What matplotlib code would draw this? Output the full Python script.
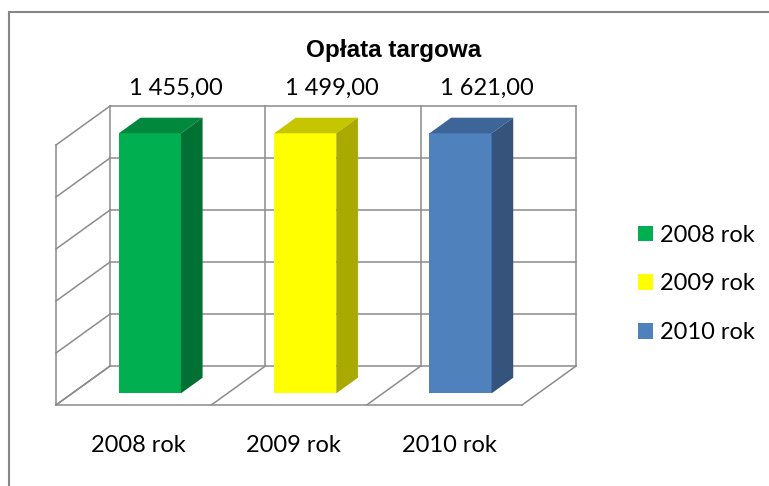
import numpy as np
import matplotlib
matplotlib.use("Agg")
import matplotlib.pyplot as plt
from matplotlib.patches import Polygon, Rectangle

# chart data
categories = ["2008 rok", "2009 rok", "2010 rok"]
values = [1455.00, 1499.00, 1621.00]
value_labels = ["1 455,00", "1 499,00", "1 621,00"]
title = "Opłata targowa"

# axis setup (value axis is capped below the data, so the bars are clipped)
y_max = 1000
y_step = 200

front_colors = ["#00B050", "#FFFF00", "#4F81BD"]
side_colors = ["#007033", "#A9A900", "#34547D"]
top_colors = ["#00893D", "#C6C600", "#3D6598"]
grid_color = "#8C8C8C"

# oblique projection of the depth axis (data units per full depth)
dx = 0.348
dy = 150.0
d0, d1 = 0.3, 0.7      # bar front / back depth
bar_w = 0.4

fig = plt.figure(figsize=(7.69, 4.86), dpi=100)
ax = fig.add_axes([0, 0, 1, 1])
ax.set_xlim(-0.3605, 4.5901)
ax.set_ylim(-311.5, 1557.7)
ax.axis("off")

n = len(categories)
levels = np.arange(0, y_max + 1, y_step)
lw = 1.1

# back wall
for v in levels:
    ax.plot([dx, n + dx], [v + dy, v + dy], color=grid_color, lw=lw, zorder=1)
for k in range(n + 1):
    ax.plot([k + dx, k + dx], [dy, y_max + dy], color=grid_color, lw=lw, zorder=1)
# side wall
ax.plot([0, 0], [0, y_max], color=grid_color, lw=lw, zorder=1)
for v in levels:
    ax.plot([0, dx], [v, v + dy], color=grid_color, lw=lw, zorder=1)
# floor
ax.plot([0, n], [0, 0], color=grid_color, lw=lw, zorder=1)
for k in range(n + 1):
    ax.plot([k, k + dx], [0, dy], color=grid_color, lw=lw, zorder=1)

# bars
heights = np.minimum(values, y_max)
x_front = np.arange(n) + 0.5 + d0 * dx
bottom = d0 * dy
bars = ax.bar(x_front, heights, width=bar_w, bottom=bottom,
              color=front_colors, zorder=3, linewidth=0)
ddx = (d1 - d0) * dx
ddy = (d1 - d0) * dy
for i, h in enumerate(heights):
    xl = x_front[i] - bar_w / 2
    xr = x_front[i] + bar_w / 2
    top = bottom + h
    ax.add_patch(Polygon([(xl, top), (xr, top), (xr + ddx, top + ddy), (xl + ddx, top + ddy)],
                         closed=True, facecolor=top_colors[i], edgecolor="none", zorder=3))
    ax.add_patch(Polygon([(xr, bottom), (xr, top), (xr + ddx, top + ddy), (xr + ddx, bottom + ddy)],
                         closed=True, facecolor=side_colors[i], edgecolor="none", zorder=3))

# value labels
for i, lab in enumerate(value_labels):
    ax.text(i + 0.5 + 0.5 * dx + 0.1, y_max + dy + 67, lab, ha="center", va="center",
            fontsize=17, family=["Lato", "DejaVu Sans"], color="black")

# category labels
for i, lab in enumerate(categories):
    ax.text(i + 0.5 + 0.03, -154, lab, ha="center", va="center",
            fontsize=17, family=["Lato", "DejaVu Sans"], color="black")

# title
fig.text(394 / 769, 1 - 50 / 486, title, ha="center", va="center", fontsize=17.5,
         fontweight="bold", family=["Liberation Sans", "DejaVu Sans"])

# legend
leg = ax.legend(bars, categories, loc="center left", bbox_to_anchor=(638 / 769, 1 - 284 / 486),
                frameon=False, borderpad=0, borderaxespad=0, handlelength=0.64,
                handleheight=0.64, handletextpad=0.3, labelspacing=1.17,
                prop={"family": "Lato", "size": 17})

# chart border (only top and left edges fall inside the image)
fig.patches.append(Rectangle((9 / 769, -0.1), 1.2, 1 - 12 / 486 + 0.1, transform=fig.transFigure,
                             fill=False, edgecolor="#868686", lw=1.5))

fig.savefig("out.png", dpi=100)
